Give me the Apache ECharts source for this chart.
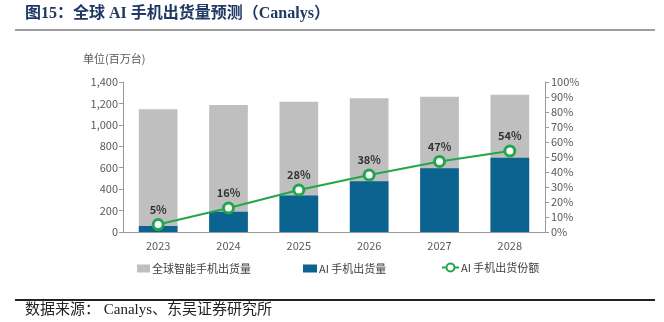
<!DOCTYPE html>
<html>
<head>
<meta charset="utf-8">
<script src="https://cdn.jsdelivr.net/npm/echarts@6/dist/echarts.min.js"></script>
<style>
  html, body { margin: 0; padding: 0; background: #fff; }
  #chart { width: 664px; height: 322px; }
</style>
</head>
<body>
<div id="chart"></div>
<script>
// Years on the category axis
const years = ['2023', '2024', '2025', '2026', '2027', '2028'];
// Global smartphone shipments (million units)
const totalShipments = [1145, 1185, 1216, 1248, 1263, 1282];
// AI smartphone shipments (million units)
const aiShipments = [57, 190, 340, 474, 594, 692];
// AI smartphone share of shipments (%)
const aiShare = [5, 16, 28, 38, 47, 54];

const cjk = '"Noto Sans CJK SC", "Noto Sans", sans-serif';
const serif = '"Liberation Serif", "Noto Sans CJK SC", serif';
const axisGray = '#9a9a9a';
const labelGray = '#595959';

const chart = echarts.init(document.getElementById('chart'), null, { renderer: 'canvas' });

chart.setOption({
  animation: false,
  backgroundColor: '#ffffff',
  grid: { left: 123, right: 119, top: 82, bottom: 90, containLabel: false },
  xAxis: {
    type: 'category',
    data: years,
    axisLine: { lineStyle: { color: axisGray, width: 1 } },
    axisTick: { show: false },
    axisLabel: { color: labelGray, fontSize: 11, fontFamily: cjk, margin: 8 }
  },
  yAxis: [
    {
      type: 'value',
      min: 0, max: 1400, interval: 200,
      axisLine: { show: true, lineStyle: { color: axisGray } },
      axisTick: { show: true, length: 4, lineStyle: { color: axisGray } },
      splitLine: { show: false },
      axisLabel: {
        color: labelGray, fontSize: 11, fontFamily: cjk, margin: 5,
        formatter: v => v.toLocaleString('en-US')
      }
    },
    {
      type: 'value',
      min: 0, max: 100, interval: 10,
      position: 'right',
      axisLine: { show: true, lineStyle: { color: axisGray } },
      axisTick: { show: true, length: 4, lineStyle: { color: axisGray } },
      splitLine: { show: false },
      axisLabel: { color: labelGray, fontSize: 11, fontFamily: cjk, margin: 6, formatter: '{value}%' }
    }
  ],
  legend: [
    {
      left: 137, top: 263, padding: 0, itemWidth: 13, itemHeight: 8, itemGap: 4,
      data: [{ name: '全球智能手机出货量', icon: 'rect' }],
      textStyle: { color: '#404040', fontSize: 11, fontFamily: cjk, padding: [0, 0, 0, -3] }
    },
    {
      left: 303, top: 263, padding: 0, itemWidth: 14, itemHeight: 8, itemGap: 4,
      data: [{ name: 'AI 手机出货量', icon: 'rect' }],
      textStyle: { color: '#404040', fontSize: 11, fontFamily: cjk, padding: [0, 0, 0, -3] }
    },
    {
      left: 441, top: 262, padding: 0, itemWidth: 17, itemHeight: 10, itemGap: 4,
      data: [{ name: 'AI 手机出货份额' }],
      textStyle: { color: '#404040', fontSize: 11, fontFamily: cjk, padding: [0, 0, 0, -3] }
    }
  ],
  series: [
    {
      name: '全球智能手机出货量',
      type: 'bar',
      data: totalShipments,
      barWidth: '55%',
      barGap: '-100%',
      itemStyle: { color: '#bfbfbf' },
      z: 1
    },
    {
      name: 'AI 手机出货量',
      type: 'bar',
      data: aiShipments,
      barWidth: '55%',
      barGap: '-100%',
      itemStyle: { color: '#0b6390' },
      z: 2
    },
    {
      name: 'AI 手机出货份额',
      type: 'line',
      yAxisIndex: 1,
      data: aiShare,
      symbol: 'circle',
      symbolSize: 10,
      lineStyle: { color: '#22a64c', width: 2 },
      itemStyle: { color: '#ffffff', borderColor: '#22a64c', borderWidth: 3 },
      label: {
        show: true,
        position: 'top',
        distance: 3,
        formatter: '{c}%',
        color: '#333333',
        fontSize: 11,
        fontWeight: 'bold',
        fontFamily: cjk
      },
      z: 5
    }
  ],
  graphic: [
    {
      type: 'text', left: 25, top: 6,
      style: {
        text: '图15：全球 AI 手机出货量预测（Canalys）',
        fill: '#1f3864',
        font: 'bold 16px ' + serif
      }
    },
    {
      type: 'line',
      shape: { x1: 15, y1: 30, x2: 655, y2: 30 },
      style: { stroke: '#7f7f7f', lineWidth: 1.5 }
    },
    {
      type: 'text', left: 83, top: 53,
      style: { text: '单位(百万台)', fill: '#595959', font: '11px ' + cjk }
    },
    {
      type: 'line',
      shape: { x1: 15, y1: 300, x2: 655, y2: 300 },
      style: { stroke: '#222222', lineWidth: 2 }
    },
    {
      type: 'text', left: 25, top: 303,
      style: {
        text: '数据来源： Canalys、东吴证券研究所',
        fill: '#222222',
        font: '15px ' + serif
      }
    }
  ]
});
</script>
</body>
</html>
